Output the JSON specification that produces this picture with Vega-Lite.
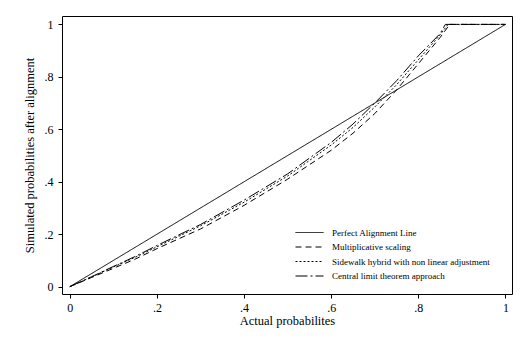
{
  "$schema": "https://vega.github.io/schema/vega-lite/v6.json",
  "autosize": {"type": "none"},
  "padding": {"left": 62, "top": 16, "right": 17, "bottom": 62},
  "width": 450,
  "height": 278,
  "background": "white",
  "config": {
    "view": {"stroke": "black", "strokeWidth": 1},
    "font": "Liberation Serif",
    "axis": {
      "grid": false,
      "domain": false,
      "tickColor": "black",
      "tickSize": 4,
      "labelColor": "black",
      "labelFont": "Liberation Serif",
      "labelFontSize": 12,
      "titleFont": "Liberation Serif",
      "titleFontSize": 12.5,
      "titleFontWeight": "normal",
      "titleColor": "black"
    }
  },
  "data": {
    "values": [
      {"s": "Perfect Alignment Line", "x": 0, "y": 0},
      {"s": "Perfect Alignment Line", "x": 1, "y": 1},

      {"s": "Multiplicative scaling", "x": 0, "y": 0},
      {"s": "Multiplicative scaling", "x": 0.05, "y": 0.035},
      {"s": "Multiplicative scaling", "x": 0.1, "y": 0.07},
      {"s": "Multiplicative scaling", "x": 0.15, "y": 0.105},
      {"s": "Multiplicative scaling", "x": 0.2, "y": 0.145},
      {"s": "Multiplicative scaling", "x": 0.3, "y": 0.22},
      {"s": "Multiplicative scaling", "x": 0.4, "y": 0.31},
      {"s": "Multiplicative scaling", "x": 0.5, "y": 0.41},
      {"s": "Multiplicative scaling", "x": 0.6, "y": 0.52},
      {"s": "Multiplicative scaling", "x": 0.65, "y": 0.585},
      {"s": "Multiplicative scaling", "x": 0.7, "y": 0.66},
      {"s": "Multiplicative scaling", "x": 0.75, "y": 0.75},
      {"s": "Multiplicative scaling", "x": 0.8, "y": 0.85},
      {"s": "Multiplicative scaling", "x": 0.85, "y": 0.95},
      {"s": "Multiplicative scaling", "x": 0.872, "y": 1},
      {"s": "Multiplicative scaling", "x": 1, "y": 1},

      {"s": "Sidewalk hybrid with non linear adjustment", "x": 0, "y": 0},
      {"s": "Sidewalk hybrid with non linear adjustment", "x": 0.05, "y": 0.037},
      {"s": "Sidewalk hybrid with non linear adjustment", "x": 0.1, "y": 0.075},
      {"s": "Sidewalk hybrid with non linear adjustment", "x": 0.15, "y": 0.112},
      {"s": "Sidewalk hybrid with non linear adjustment", "x": 0.2, "y": 0.152},
      {"s": "Sidewalk hybrid with non linear adjustment", "x": 0.3, "y": 0.232},
      {"s": "Sidewalk hybrid with non linear adjustment", "x": 0.4, "y": 0.322},
      {"s": "Sidewalk hybrid with non linear adjustment", "x": 0.5, "y": 0.422},
      {"s": "Sidewalk hybrid with non linear adjustment", "x": 0.6, "y": 0.54},
      {"s": "Sidewalk hybrid with non linear adjustment", "x": 0.65, "y": 0.607},
      {"s": "Sidewalk hybrid with non linear adjustment", "x": 0.7, "y": 0.685},
      {"s": "Sidewalk hybrid with non linear adjustment", "x": 0.75, "y": 0.77},
      {"s": "Sidewalk hybrid with non linear adjustment", "x": 0.8, "y": 0.865},
      {"s": "Sidewalk hybrid with non linear adjustment", "x": 0.85, "y": 0.96},
      {"s": "Sidewalk hybrid with non linear adjustment", "x": 0.868, "y": 1},
      {"s": "Sidewalk hybrid with non linear adjustment", "x": 1, "y": 1},

      {"s": "Central limit theorem approach", "x": 0, "y": 0},
      {"s": "Central limit theorem approach", "x": 0.05, "y": 0.038},
      {"s": "Central limit theorem approach", "x": 0.1, "y": 0.077},
      {"s": "Central limit theorem approach", "x": 0.15, "y": 0.115},
      {"s": "Central limit theorem approach", "x": 0.2, "y": 0.157},
      {"s": "Central limit theorem approach", "x": 0.3, "y": 0.237},
      {"s": "Central limit theorem approach", "x": 0.4, "y": 0.33},
      {"s": "Central limit theorem approach", "x": 0.5, "y": 0.43},
      {"s": "Central limit theorem approach", "x": 0.6, "y": 0.55},
      {"s": "Central limit theorem approach", "x": 0.65, "y": 0.62},
      {"s": "Central limit theorem approach", "x": 0.7, "y": 0.70},
      {"s": "Central limit theorem approach", "x": 0.75, "y": 0.785},
      {"s": "Central limit theorem approach", "x": 0.8, "y": 0.88},
      {"s": "Central limit theorem approach", "x": 0.85, "y": 0.965},
      {"s": "Central limit theorem approach", "x": 0.862, "y": 1},
      {"s": "Central limit theorem approach", "x": 1, "y": 1}
    ]
  },
  "mark": {"type": "line", "color": "black", "strokeWidth": 1},
  "encoding": {
    "x": {
      "field": "x", "type": "quantitative",
      "scale": {"domain": [-0.018, 1.015], "nice": false, "zero": false},
      "axis": {
        "title": "Actual probabilites",
        "values": [0, 0.2, 0.4, 0.6, 0.8, 1],
        "labelExpr": "datum.value == 0 ? '0' : datum.value == 1 ? '1' : replace(format(datum.value, '.1f'), '0.', '.')",
        "labelPadding": 4,
        "titlePadding": 1
      }
    },
    "y": {
      "field": "y", "type": "quantitative",
      "scale": {"domain": [-0.028, 1.032], "nice": false, "zero": false},
      "axis": {
        "title": "Simulated probabilities after alignment",
        "values": [0, 0.2, 0.4, 0.6, 0.8, 1],
        "labelExpr": "datum.value == 0 ? '0' : datum.value == 1 ? '1' : replace(format(datum.value, '.1f'), '0.', '.')",
        "labelPadding": 5,
        "titlePadding": 8
      }
    },
    "strokeDash": {
      "field": "s", "type": "nominal",
      "scale": {
        "domain": ["Perfect Alignment Line", "Multiplicative scaling", "Sidewalk hybrid with non linear adjustment", "Central limit theorem approach"],
        "range": [[1, 0], [6, 4], [2, 2], [12, 3, 2, 3]]
      },
      "legend": {
        "title": null,
        "orient": "none",
        "legendX": 240,
        "legendY": 209,
        "symbolType": "M-2,0H2",
        "symbolSize": 196,
        "symbolStrokeWidth": 1,
        "symbolStrokeColor": "black",
        "labelFont": "Liberation Serif",
        "labelFontSize": 9,
        "labelColor": "black",
        "labelOffset": 15,
        "labelLimit": 300,
        "rowPadding": 1.5
      }
    }
  }
}
